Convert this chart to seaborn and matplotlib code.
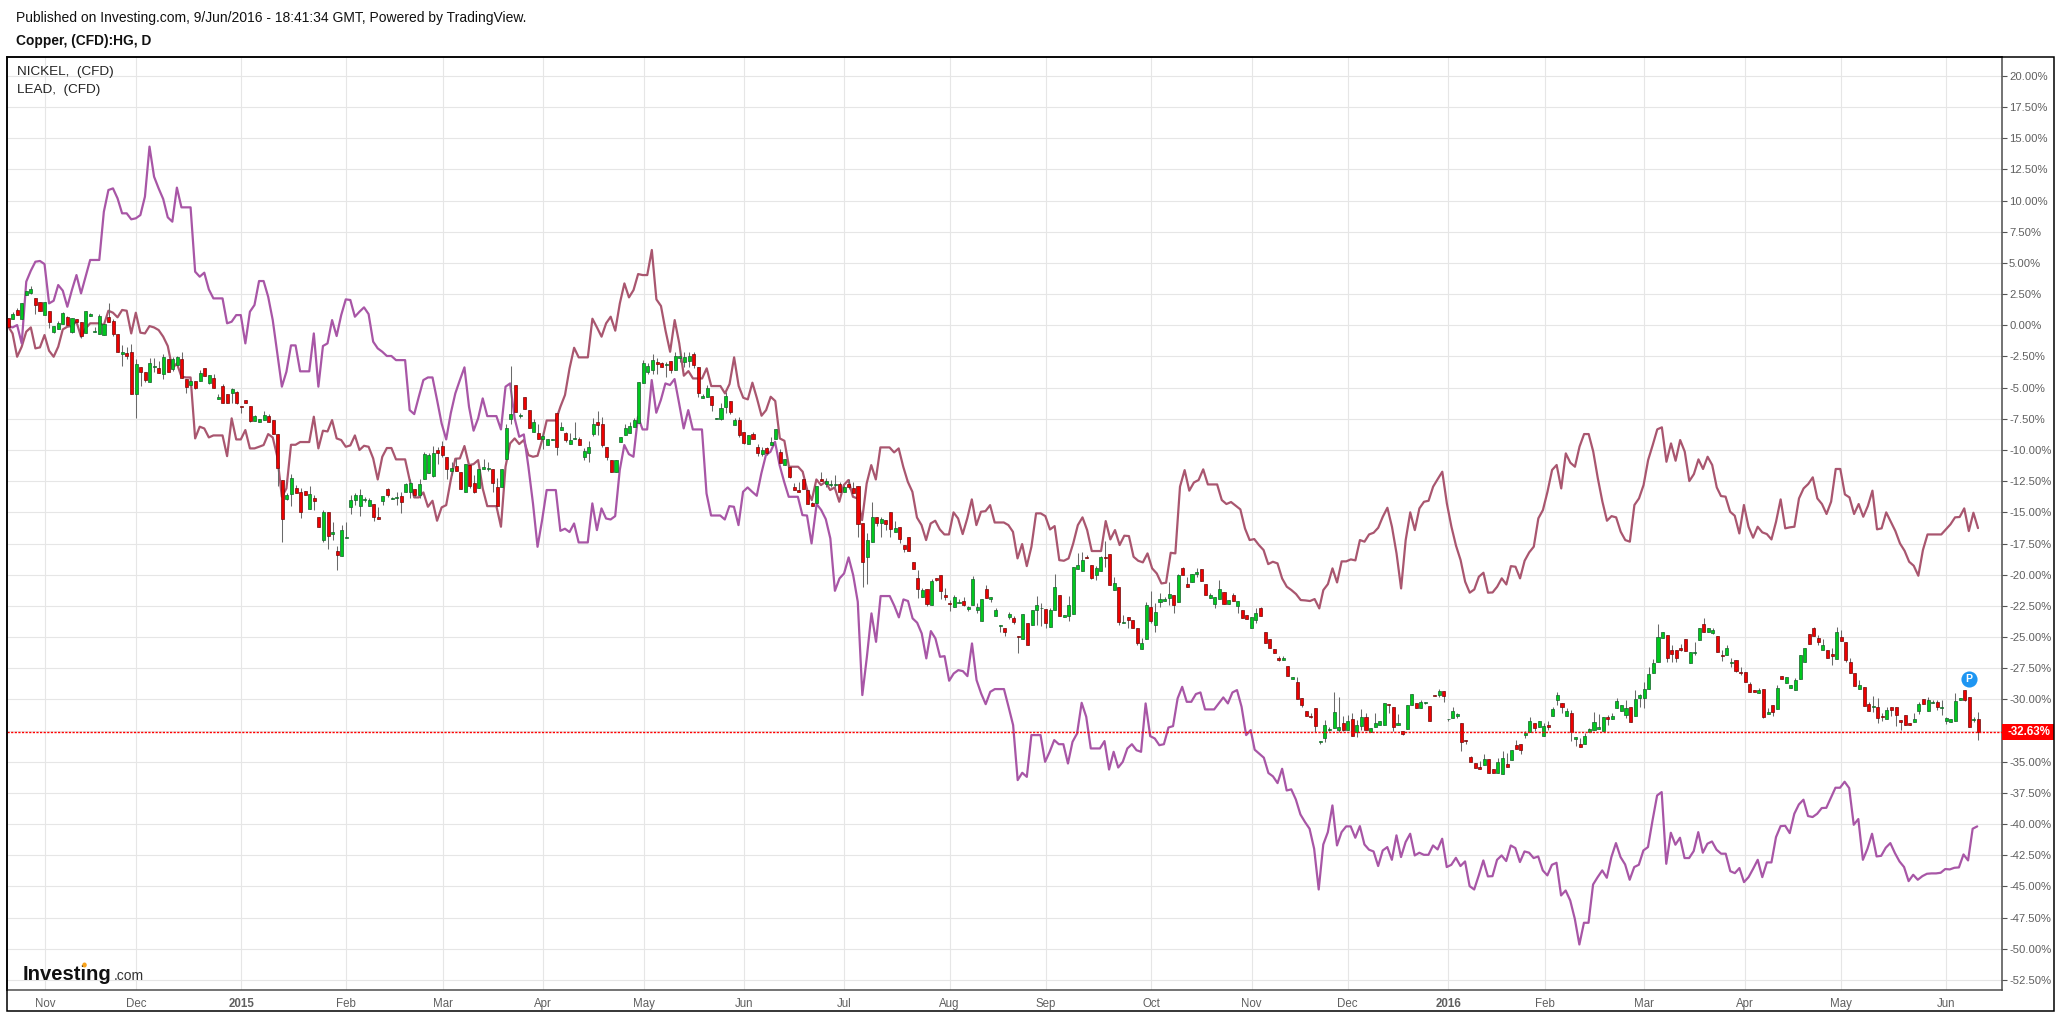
import numpy as np
import pandas as pd
import seaborn as sns
import matplotlib
matplotlib.use("Agg")
import matplotlib.pyplot as plt
from matplotlib.patches import Rectangle, Ellipse

# ---------- values (percent change) ----------
lead_a = [-0.06,-0.65,-2.52,-1.72,-0.51,-0.17,-1.85,-1.77,-0.78,-2.04,-2.52,-1.72,-0.33,-0.11,-0.06,0.29,-0.91,-0.25,0.16,0.16,0.16,0.02,1.17,1.01,0.64,1.23,1.17,-0.65,1.01,-0.59,-0.65,-0.06,-0.17,-0.38,-0.91,-1.66,-3.45,-3.05,-4.12,-4.18,-4.18,-9.07,-8.13,-8.27,-8.99,-8.83,-8.83,-8.83,-10.49,-7.46,-9.15,-9.15,-8.40,-9.87,-9.87,-9.74,-9.60,-8.72,-8.99,-10.54,-13.75,-13.08,-9.58,-9.58,-9.36,-9.36,-9.36,-7.33,-9.87,-8.45,-8.51,-7.60,-9.07,-9.20,-9.74,-9.63,-8.83,-10.0,-9.66,-9.74,-10.67,-12.36,-10.54,-9.84,-9.84,-10.75,-10.75,-10.75,-12.41,-13.80,-13.80,-13.40,-14.55,-14.07,-15.67,-14.60,-14.42,-12.41,-10.70,-10.67,-9.68,-11.21,-11.13,-10.81,-13.08,-14.50,-14.50,-14.50,-16.15,-11.34,-9.47,-9.07,-9.52]
lead_b = [-9.20,-10.41,-10.54,-10.46,-9.20,-7.63,-7.63,-7.63,-6.53,-5.59,-3.45,-1.80,-2.57,-2.57,-2.57,0.53,-0.17,-0.91,0.16,0.69,-0.43,1.76,3.36,2.24,2.83,4.11,4.03,4.03,6.04,2.08,1.55,-0.43,-2.12,0.42,-1.45,-4.04,-3.67,-4.26,-4.26,-4.26,-3.45,-4.87,-4.87,-4.87,-5.46,-4.71,-2.57,-4.87,-5.81,-5.94,-4.60,-5.86,-7.25,-6.80,-5.73,-6.07,-9.07,-9.26,-11.34,-11.34,-11.34,-11.74,-13.21,-14.02,-12.36,-12.81,-12.55,-13.21,-13.0,-14.15,-12.81,-12.41,-13.75,-13.88,-15.62,-12.68,-11.21,-12.36,-9.79,-9.79,-9.79,-10.19,-9.87,-11.34,-12.55,-13.35,-15.41,-16.02,-17.22,-15.89,-15.67,-16.37,-16.77,-16.77,-15.0,-15.49,-16.74,-15.49,-13.96,-16.02,-14.95,-14.9,-14.42,-15.81,-15.81,-15.81,-16.02,-16.56,-18.69]
lead_c = [-17.54,-19.31,-17.76,-15.08,-15.08,-15.30,-16.37,-16.10,-18.83,-18.88,-18.69,-17.49,-16.02,-15.40,-16.42,-18.10,-18.10,-18.10,-15.70,-17.17,-16.42,-17.62,-16.87,-16.90,-18.56,-18.88,-19.01,-18.29,-19.49,-19.90,-20.70,-20.64,-18.24,-18.29,-12.94,-11.61,-13.26,-12.60,-12.41,-11.55,-12.76,-12.76,-12.76,-14.01,-14.33,-14.17,-14.47,-14.76,-16.29,-17.22,-17.14,-17.62,-18.02,-19.15,-18.96,-19.09,-20.30,-20.96,-21.23,-21.55,-22.03,-22.06,-22.11,-21.95,-22.70]
lead_d = [-21.23,-20.75,-19.49,-20.62,-18.93,-18.93,-18.77,-18.85,-17.22,-17.35,-16.77,-16.63,-16.23,-15.35,-14.63,-16.15,-18.29,-21.10,-17.22,-15.0,-16.42,-14.68,-14.15,-14.07,-12.94,-12.33,-11.74,-14.28,-16.15,-17.67,-18.82,-20.56,-21.44,-21.18,-20.16,-19.84,-21.44,-21.42,-20.96,-20.29,-20.78,-19.31,-19.36,-20.29,-18.88,-18.21,-17.75,-15.48,-14.81,-13.34,-11.60,-11.20,-13.08,-10.27,-11.02,-11.34,-9.73,-8.72,-8.72,-10.13,-12.27,-14.14,-15.67,-15.30,-15.40,-16.55,-17.22,-17.35,-14.41,-13.88,-12.81,-10.80,-9.60,-8.34,-8.18,-10.94,-9.47,-10.86,-9.20,-10.13,-12.49,-11.93,-10.75,-11.52,-10.54,-11.20,-13.0]
lead_e = [-13.69,-13.74,-14.95,-15.27,-16.69,-14.41,-16.15,-17.03,-16.15,-16.60,-16.74,-17.17,-15.75,-13.96,-16.28,-16.20,-16.15,-13.88,-13.08,-12.73,-12.19,-13.88,-14.33,-15.13,-14.14,-11.52,-11.52,-13.56,-13.80,-15.13,-14.33,-15.35,-14.49,-13.26,-16.36,-16.28,-15.0,-15.75,-16.50,-17.49,-18.08,-18.96,-19.28,-20.08,-18.02,-16.77,-16.77,-16.77,-16.77,-16.36,-15.96,-15.40,-15.37,-14.68,-16.50,-15.03,-16.26]

nickel_a = [-0.06,-0.17,0.02,-1.45,3.50,4.38,5.10,5.16,4.91,1.76,1.97,3.23,2.78,1.49,2.83,4.03,2.56,3.90,5.24,5.24,5.24,9.11,10.85,10.98,10.18,8.98,8.98,8.50,8.58,8.84,10.32,14.33,11.92,10.98,10.13,8.66,8.31,11.04,9.46,9.46,9.46,4.30,3.90,4.22,2.88,2.16,2.16,2.16,0.16,0.29,0.82,0.82,-1.45,1.09,1.63,3.55,3.55,2.29,0.42,-2.25,-4.92,-3.72,-1.61,-1.61,-3.69,-3.69,-3.69,-0.65,-4.92,-1.66,-1.45,0.42,-0.86,0.82,2.08,2.03,0.69,1.09,1.44,0.90,-1.31,-1.85,-2.12,-2.46,-2.46,-2.79,-2.79,-2.79,-6.80,-7.12,-5.73,-4.39,-4.18,-4.18,-5.99,-7.87,-9.15,-7.06,-5.46,-4.39,-3.37,-6.53,-8.45,-7.46,-5.86,-7.28,-7.28,-7.28,-8.35,-4.92,-4.66,-7.46,-8.94]
nickel_b = [-8.75,-11.34,-14.28,-17.76,-15.62,-13.21,-13.21,-13.21,-16.48,-16.31,-16.58,-15.89,-17.41,-17.41,-17.41,-14.28,-16.42,-14.68,-15.49,-15.57,-15.30,-11.61,-9.60,-10.33,-10.54,-7.33,-8.35,-8.35,-4.39,-7.01,-5.99,-4.66,-4.79,-4.31,-6.26,-8.27,-6.80,-8.35,-8.35,-8.35,-13.48,-15.25,-15.25,-15.25,-15.57,-14.50,-14.55,-16.02,-13.35,-13.0,-13.35,-13.67,-11.88,-10.41,-10.14,-9.34,-11.21,-12.55,-13.75,-13.75,-13.75,-15.22,-15.25,-17.49]
nickel_c = [-14.33,-14.81,-15.54,-17.09,-21.29,-20.30,-19.90,-18.61,-20.03,-22.17,-29.65,-26.58,-23.10,-25.38,-21.71,-21.71,-21.71,-22.49,-23.42,-21.98,-22.11,-23.50,-23.85,-24.71,-26.71,-24.52,-25.11,-26.58,-26.53,-28.50,-27.92,-27.65,-27.73,-28.13,-25.51,-28.45,-29.52,-30.38,-29.39,-29.17,-29.17,-29.17,-30.59,-32.06,-36.47,-35.88,-36.21,-32.86,-32.86,-32.86,-35.0,-34.20,-33.26,-33.59,-33.59,-35.14,-33.40,-32.73,-30.27,-31.39,-33.93,-33.93,-33.93,-33.34,-35.62,-34.20,-35.46,-35.0,-33.93,-33.59,-34.07,-34.20,-30.32,-32.94,-33.13,-33.67,-33.59,-32.25,-32.14,-29.92,-28.99,-30.19,-30.19,-29.57,-29.44,-30.80,-30.80,-30.80,-30.32,-29.84,-30.32,-29.44,-29.25,-30.59,-32.86,-32.46]
nickel_d = [-34.03,-34.35,-34.67,-35.90,-36.17,-36.71,-35.56,-37.30,-37.21,-38.02,-39.22,-39.83,-40.37,-41.97,-45.24,-41.63,-40.64,-38.50,-41.71,-40.64,-40.18,-40.18,-41.09,-40.16,-41.63,-42.05,-42.19,-43.36,-42.11,-41.84,-42.86,-40.90,-42.64,-41.44,-40.77,-42.51,-42.29,-42.46,-42.46,-41.71,-42.03,-41.17,-43.44,-43.26,-42.70,-43.36,-42.99,-44.97,-45.24,-44.11,-42.91,-44.19,-44.17,-42.86,-42.51,-42.96,-41.71,-41.92,-43.04,-42.19,-42.29,-42.72,-42.59,-43.71,-44.11,-43.26,-43.10,-45.72,-45.32,-46.12,-47.59,-49.65,-47.91,-47.91,-44.84,-44.25,-43.71,-44.30,-42.64,-41.52,-42.64,-43.23,-44.46,-43.44,-43.26,-42.11,-41.84,-39.70,-37.70,-37.43,-43.18,-40.69,-41.65,-41.09,-42.72,-42.72,-42.16,-40.64,-42.29,-41.57,-41.39,-42.05,-42.37,-42.37,-43.77,-43.93,-43.52,-44.65,-44.25,-43.58,-42.86,-44.25,-43.07,-43.07,-41.04,-40.16,-40.13,-40.72,-39.17,-38.42,-38.04,-39.35,-39.43,-39.17,-38.71,-38.69,-37.88,-37.08,-37.08,-36.60,-37.11,-40.05,-39.59,-42.86,-41.97,-40.77,-42.59,-42.54,-41.89,-41.52,-42.32,-42.99,-43.44,-44.57,-44.06,-44.46,-44.17,-43.98,-43.95,-43.95,-43.90,-43.60,-43.63,-43.50,-43.47,-42.43,-42.91,-40.37,-40.18]

# copper candles: (open, high, low, close)
copper_a = [(.56,.56,-.11,-.11),(.53,1.09,.53,.90),(1.23,1.36,.85,.85),(.53,1.79,.53,1.79),(2.40,2.72,2.40,2.72),(2.62,3.15,2.51,2.88),(2.16,2.16,.90,1.60),(1.84,1.84,1.17,1.17),(.85,1.84,.85,1.84),(1.12,1.12,-.22,.29),(-.51,-.09,-.59,-.09),(-.27,.34,-.27,.16),(.13,1.09,.13,.96),(.66,.72,.02,.02),(-.51,.56,-.59,.56),(.48,.48,.29,.29),(.26,.26,-1.05,-.86),(-.65,1.12,-.65,1.12),(.77,.96,.77,.90),(-.57,-.17,-.57,-.46),(-.67,.90,-.67,.72),(-.75,.08,-.75,.08),(.64,1.81,.29,.29),(.34,.48,-.86,-.67),(-.73,-.73,-2.12,-2.12),(-2.28,-1.58,-3.27,-2.17),(-2.25,-1.77,-2.68,-2.44),(-2.17,-1.50,-5.49,-5.49),(-5.54,-2.73,-7.41,-3.13),(-3.38,-3.38,-4.84,-3.72),(-3.78,-3.78,-4.52,-4.39),(-4.52,-2.62,-4.52,-3.05),(-3.35,-2.62,-3.72,-3.29),(-3.45,-2.84,-3.83,-3.83),(-3.94,-2.33,-4.34,-2.57),(-2.73,-2.73,-3.72,-3.72),(-3.48,-2.52,-3.64,-2.73),(-3.19,-2.46,-3.19,-2.57),(-2.73,-2.17,-4.20,-4.20),(-4.34,-4.34,-5.41,-4.92),(-4.76,-4.49,-4.76,-4.49),(-4.49,-4.49,-5.11,-5.03),(-4.49,-3.59,-4.49,-3.86),(-3.45,-3.45,-4.04,-4.04),(-4.63,-4.01,-4.74,-4.01),(-4.26,-3.91,-5.01,-5.01),(-5.89,-5.51,-5.89,-5.78),(-4.90,-4.74,-6.26,-6.26),(-5.51,-5.51,-6.21,-6.21),(-5.41,-5.0,-6.26,-5.14),(-5.35,-5.27,-6.32,-6.21),(-6.48,-6.48,-7.01,-6.59),(-6.02,-6.02,-6.21,-6.21),(-6.50,-6.50,-7.73,-7.65),(-7.65,-7.20,-7.65,-7.31),(-7.73,-7.55,-7.73,-7.55),(-7.60,-6.88,-7.60,-7.22),(-7.31,-7.12,-7.73,-7.73),(-7.63,-7.63,-8.70,-8.70),(-8.75,-8.75,-12.89,-11.42),(-12.44,-12.44,-17.36,-15.57),(-13.94,-13.48,-14.0,-13.64),(-13.51,-11.93,-14.47,-12.28),(-13.08,-12.81,-13.43,-13.43),(-13.40,-13.08,-15.44,-14.95),(-13.32,-13.32,-13.62,-13.62),(-14.71,-12.89,-14.71,-13.56),(-13.88,-13.62,-14.77,-14.07),(-15.41,-15.41,-16.16,-16.16),(-17.25,-14.77,-17.36,-14.93),(-15.0,-15.0,-17.92,-16.88),(-16.72,-15.78,-17.22,-16.61),(-18.08,-17.68,-19.63,-18.40),(-18.53,-16.02,-18.53,-16.45),(-17.04,-15.78,-17.04,-16.98),(-14.55,-13.62,-15.14,-14.04),(-13.99,-13.48,-14.42,-13.64),(-14.47,-13.13,-15.27,-13.64),(-13.99,-13.80,-14.15,-13.94),(-14.47,-13.88,-14.47,-14.04),(-14.36,-14.36,-15.67,-15.35),(-15.41,-14.60,-15.57,-15.57),(-14.07,-13.72,-14.42,-13.72),(-13.16,-13.08,-13.75,-13.59),(-13.91,-13.80,-13.91,-13.86),(-13.83,-13.35,-14.42,-13.78),(-13.72,-13.35,-15.03,-14.20),(-13.35,-12.63,-13.35,-12.76),(-13.40,-12.36,-13.88,-12.68),(-13.16,-13.16,-13.80,-13.64),(-13.64,-12.36,-13.88,-12.76),(-12.36,-10.19,-12.36,-10.35),(-11.88,-10.27,-11.88,-10.43),(-12.07,-9.68,-12.15,-10.27),(-10.03,-9.74,-11.13,-10.22),(-9.69,-9.31,-10.54,-10.38),(-10.59,-10.59,-12.31,-11.56),(-11.67,-10.94,-12.01,-11.48),(-11.32,-10.67,-11.67,-11.67),(-11.80,-11.80,-13.11,-13.11),(-13.40,-11.16,-13.40,-11.16),(-11.24,-11.24,-13.08,-12.92),(-12.68,-12.01,-13.48,-13.35),(-13.08,-11.56,-13.08,-11.56),(-11.56,-10.75,-11.56,-11.40),(-11.53,-10.94,-11.72,-11.48),(-11.56,-11.56,-13.35,-12.68),(-13.0,-12.28,-14.50,-14.50),(-13.0,-11.56,-13.0,-11.56),(-10.75,-7.95,-10.75,-8.27),(-7.49,-3.27,-7.92,-7.14),(-4.82,-4.82,-6.93,-6.93)]
copper_b = [(-7.25,-7.01,-7.40,-7.20),(-5.78,-5.78,-6.74,-6.74),(-6.82,-6.82,-8.27,-8.27),(-8.59,-7.52,-8.59,-7.79),(-8.67,-7.95,-9.15,-9.15),(-9.15,-8.53,-9.95,-8.91),(-9.63,-9.15,-9.63,-9.15),(-9.18,-9.13,-9.18,-9.13),(-7.06,-7.06,-10.41,-9.74),(-8.43,-7.79,-8.43,-8.19),(-8.67,-8.53,-9.34,-9.18),(-9.55,-8.67,-9.55,-9.23),(-9.12,-7.79,-9.12,-9.07),(-9.15,-8.94,-9.58,-9.58),(-10.59,-9.87,-10.81,-10.11),(-10.27,-9.29,-10.94,-9.79),(-8.70,-7.47,-8.86,-7.92),(-7.79,-6.88,-8.80,-7.97),(-7.95,-7.38,-9.79,-9.58),(-9.76,-9.76,-10.81,-10.59),(-10.81,-10.81,-11.74,-11.74),(-11.80,-10.81,-11.80,-10.81),(-9.39,-8.99,-9.39,-8.99),(-8.78,-7.92,-8.78,-8.27),(-8.62,-7.73,-8.62,-8.08),(-8.13,-7.47,-8.13,-7.63),(-7.82,-4.58,-7.82,-4.58),(-4.60,-2.79,-4.60,-3.05),(-3.72,-3.05,-3.91,-3.29),(-3.59,-2.30,-3.91,-2.81),(-2.95,-2.63,-3.91,-3.08),(-3.05,-2.92,-3.32,-3.32),(-3.21,-2.92,-4.18,-3.13),(-2.89,-2.89,-3.80,-3.59),(-3.59,-2.17,-3.59,-2.49),(-2.60,-1.98,-2.92,-2.49),(-2.97,-2.12,-3.32,-2.57),(-2.84,-2.17,-3.32,-2.46),(-2.33,-2.17,-3.45,-3.16),(-3.37,-3.37,-5.73,-5.41),(-5.81,-5.51,-5.86,-5.70),(-5.73,-4.82,-5.73,-5.06),(-5.70,-5.70,-6.88,-6.37),(-7.54,-7.47,-7.54,-7.47),(-7.49,-6.26,-7.60,-6.66),(-6.53,-5.35,-7.01,-5.70),(-6.10,-6.10,-7.14,-6.93),(-8.03,-7.47,-8.03,-7.63),(-7.63,-7.33,-8.94,-8.78),(-8.59,-8.59,-9.55,-9.42),(-9.55,-8.83,-9.55,-8.83),(-8.72,-8.59,-9.10,-9.10),(-9.79,-9.55,-10.46,-10.22),(-10.35,-9.79,-10.46,-10.0),(-9.87,-9.74,-10.41,-10.22),(-9.58,-8.94,-9.58,-9.39),(-9.15,-8.35,-9.15,-8.35),(-10.19,-9.92,-11.02,-11.02),(-11.23,-10.75,-11.23,-10.75),(-11.40,-11.40,-12.22,-12.14),(-13.0,-12.68,-13.19,-13.19),(-13.24,-12.60,-13.35,-13.35),(-12.36,-12.36,-13.11,-13.11),(-13.21,-13.21,-14.31,-14.31),(-14.28,-14.20,-14.47,-14.47),(-14.28,-12.92,-14.28,-12.92),(-12.36,-11.80,-12.52,-12.52),(-12.71,-12.28,-12.95,-12.52),(-12.81,-12.41,-12.95,-12.76),(-12.81,-12.01,-12.95,-12.76),(-12.76,-12.55,-13.35,-13.35),(-13.35,-12.81,-13.35,-12.95),(-12.76,-12.36,-13.14,-12.95),(-13.08,-12.55,-13.48,-13.48),(-12.87,-12.87,-16.96,-15.97),(-15.88,-15.88,-20.96,-18.96),(-18.61,-16.69,-20.75,-17.22)]
copper_c = [(-17.35,-14.17,-17.35,-15.40),(-15.40,-15.40,-16.10,-15.83),(-15.83,-15.40,-17.01,-15.56),(-15.64,-15.64,-16.42,-15.91),(-15.0,-15.0,-16.95,-16.37),(-16.61,-15.70,-16.61,-16.29),(-16.18,-16.18,-17.49,-17.17),(-17.62,-17.62,-18.16,-17.92),(-17.0,-17.0,-18.08,-18.08),(-19.01,-19.01,-19.57,-19.57),(-20.30,-19.63,-21.85,-21.18),(-21.77,-21.10,-21.77,-21.26),(-21.18,-21.18,-22.49,-22.36),(-22.41,-20.38,-22.41,-20.54),(-20.30,-20.24,-20.50,-20.40),(-20.06,-20.06,-21.95,-21.29),(-21.63,-21.10,-22.03,-21.77),(-22.30,-22.03,-22.89,-22.38),(-22.62,-21.63,-22.62,-21.80),(-22.28,-21.95,-22.28,-22.22),(-22.14,-21.82,-22.49,-22.41),(-22.76,-22.49,-22.89,-22.62),(-22.44,-20.11,-22.44,-20.38),(-22.84,-22.30,-23.10,-22.62),(-23.69,-21.98,-23.69,-21.98),(-21.18,-20.83,-21.85,-21.85),(-21.93,-21.82,-22.17,-21.82),(-23.29,-22.65,-23.29,-22.86),(-24.15,-24.07,-24.57,-24.07),(-24.31,-24.31,-24.90,-24.57),(-23.40,-22.97,-23.56,-23.16),(-23.48,-23.29,-23.96,-23.77),(-24.92,-24.92,-26.26,-25.0),(-25.14,-23.18,-25.14,-23.18),(-23.91,-23.91,-25.62,-25.62),(-24.01,-22.86,-24.01,-22.86),(-22.81,-21.71,-24.04,-22.46),(-22.70,-22.30,-24.09,-22.65),(-22.78,-22.78,-24.25,-23.85),(-24.17,-22.65,-24.17,-22.86),(-22.81,-19.95,-22.81,-21.02),(-21.66,-21.66,-23.29,-23.29),(-23.37,-23.26,-23.37,-23.26),(-23.29,-21.71,-23.69,-22.46),(-23.13,-19.39,-23.13,-19.39),(-19.55,-18.29,-19.55,-19.25),(-19.68,-18.16,-19.68,-18.85),(-18.58,-18.42,-18.64,-18.64),(-19.25,-19.25,-20.35,-20.27),(-20.0,-19.31,-20.43,-19.47),(-19.68,-18.48,-19.68,-18.61),(-18.58,-17.30,-19.36,-18.64),(-18.37,-18.37,-20.80,-20.80),(-21.20,-20.16,-21.20,-20.70),(-21.02,-21.02,-24.0,-23.80),(-23.88,-23.24,-23.88,-23.83),(-23.42,-23.42,-24.30,-23.64),(-23.66,-23.66,-24.31,-24.31),(-24.31,-24.31,-25.64,-25.46),(-25.94,-25.06,-25.94,-25.51),(-25.19,-22.22,-25.19,-22.46),(-22.62,-21.31,-23.91,-23.72),(-24.01,-22.30,-24.57,-23.02),(-22.17,-21.50,-22.57,-21.98),(-22.09,-21.82,-22.09,-21.95),(-21.85,-20.62,-22.44,-21.58),(-21.66,-21.66,-23.05,-22.41),(-22.22,-19.95,-22.22,-20.03),(-19.49,-19.36,-20.0,-20.0),(-20.78,-20.16,-21.0,-21.0),(-20.56,-19.97,-20.56,-19.97),(-19.95,-19.49,-20.15,-19.79),(-19.57,-19.57,-20.48,-20.48),(-20.78,-20.78,-21.63,-21.63),(-21.85,-21.45,-21.85,-21.66),(-22.33,-21.82,-22.70,-21.82),(-21.93,-20.43,-21.93,-21.18),(-21.42,-21.42,-22.33,-22.33),(-22.33,-22.06,-22.33,-22.06),(-21.66,-21.45,-22.11,-22.11),(-22.49,-22.14,-23.05,-22.14),(-22.84,-22.84,-23.45,-23.45),(-23.26,-23.26,-23.56,-23.56),(-24.25,-23.42,-24.25,-23.42),(-23.66,-22.70,-23.91,-23.10),(-22.70,-22.57,-23.29,-23.29),(-24.63,-24.63,-25.51,-25.51),(-25.19,-25.19,-25.91,-25.91),(-25.99,-25.99,-26.31,-26.31),(-26.71,-26.55,-26.95,-26.80),(-26.87,-26.53,-26.87,-26.66),(-27.30,-27.30,-28.13,-28.13),(-28.40,-28.24,-28.40,-28.24),(-28.59,-28.24,-30.0,-30.0),(-29.92,-29.92,-30.59,-30.46),(-30.96,-30.96,-31.31,-31.31),(-31.29,-31.12,-31.45,-31.39),(-30.72,-30.72,-32.60,-32.12)]
copper_d = [(-33.45,-33.30,-33.60,-33.30),(-33.13,-31.66,-33.45,-32.06),(-32.45,-32.2,-32.5,-32.38),(-32.27,-29.44,-32.27,-31.04),(-32.46,-29.79,-32.62,-32.25),(-31.85,-31.34,-32.54,-32.43),(-32.46,-31.26,-32.46,-31.69),(-31.53,-31.07,-32.91,-32.91),(-32.65,-31.66,-33.0,-32.01),(-32.14,-30.78,-32.46,-31.44),(-31.44,-31.12,-32.43,-32.43),(-32.62,-32.30,-32.62,-32.30),(-32.19,-31.07,-32.19,-31.90),(-32.06,-31.74,-32.06,-31.74),(-32.03,-30.32,-32.03,-30.32),(-30.37,-30.37,-31.07,-30.48),(-30.61,-30.61,-32.51,-32.19),(-32.03,-31.18,-32.03,-31.85),(-32.57,-32.57,-32.84,-32.76),(-32.35,-30.48,-32.35,-30.48),(-30.48,-29.60,-30.48,-29.60),(-30.29,-30.29,-30.67,-30.67),(-30.67,-30.05,-30.67,-30.21),(-30.27,-30.21,-30.37,-30.21),(-30.53,-30.53,-31.71,-31.71),(-29.65,-29.65,-29.76,-29.76),(-29.63,-29.20,-29.84,-29.36),(-29.36,-29.36,-30.19,-29.71),(-31.58,-31.53,-31.71,-31.53),(-31.47,-30.64,-31.47,-30.96),(-31.31,-31.07,-31.45,-31.20)]
copper_e = [(-31.92,-31.92,-34.12,-33.39),(-33.29,-33.29,-33.58,-33.34),(-34.65,-34.52,-35.0,-35.0),(-35.13,-35.13,-35.48,-35.48),(-35.45,-34.92,-35.56,-35.56),(-35.24,-34.38,-35.24,-34.81),(-34.81,-34.81,-35.88,-35.88),(-35.61,-35.61,-35.88,-35.88),(-35.88,-34.73,-35.88,-35.05),(-35.96,-34.14,-35.96,-34.73),(-35.21,-34.33,-35.40,-35.40),(-34.84,-34.09,-34.84,-34.09),(-33.69,-33.26,-33.96,-33.96),(-33.61,-33.61,-34.38,-34.04),(-32.83,-32.54,-33.07,-32.70),(-32.59,-31.44,-32.59,-31.76),(-31.92,-31.92,-32.54,-32.27),(-32.19,-31.76,-32.19,-31.76),(-32.91,-31.92,-32.91,-32.14),(-32.06,-31.76,-32.46,-32.19),(-31.31,-30.59,-31.31,-30.80),(-30.05,-29.38,-30.45,-29.65),(-30.32,-30.32,-31.07,-30.59),(-31.31,-30.72,-31.31,-30.96),(-31.12,-30.85,-33.31,-32.65),(-33.15,-33.05,-33.74,-33.05),(-33.61,-33.13,-33.80,-33.80),(-33.55,-32.67,-33.55,-32.97),(-32.59,-32.30,-32.59,-32.40),(-32.43,-31.02,-32.43,-31.84),(-32.35,-31.18,-32.35,-32.22),(-32.51,-31.44,-32.51,-31.44),(-31.42,-31.26,-32.06,-31.55),(-31.55,-31.12,-31.55,-31.36),(-30.67,-29.89,-30.67,-30.16),(-30.91,-30.48,-30.91,-30.48),(-31.26,-30.05,-31.48,-30.72),(-30.64,-30.64,-31.79,-31.79),(-31.31,-29.25,-31.31,-30.0),(-29.86,-29.60,-30.64,-29.68),(-29.87,-28.60,-30.70,-29.20),(-29.2,-27.43,-29.2,-28.0),(-27.92,-26.79,-27.92,-27.11),(-27.03,-23.96,-27.03,-24.97),(-25.05,-24.63,-25.05,-24.63),(-24.87,-24.87,-27.03,-26.66),(-26.07,-25.64,-26.98,-26.34),(-26.07,-26.07,-26.98,-26.71),(-25.88,-25.59,-26.08,-26.02),(-25.19,-25.19,-26.10,-26.10),(-27.11,-26.20,-27.11,-26.20),(-26.28,-25.37,-26.45,-26.23),(-25.22,-24.30,-25.22,-24.30),(-23.98,-23.50,-24.63,-24.63),(-24.63,-24.30,-24.63,-24.30),(-24.65,-24.30,-24.78,-24.47),(-24.92,-24.92,-26.23,-26.23)]
copper_f = [(-26.44,-26.04,-26.92,-26.50),(-26.42,-25.64,-26.42,-25.91),(-27.09,-26.71,-27.38,-27.03),(-26.87,-26.87,-27.81,-27.70),(-27.76,-27.43,-28.05,-27.89),(-27.84,-27.84,-28.58,-28.58),(-28.77,-28.58,-29.39,-29.39),(-29.23,-29.23,-29.44,-29.44),(-29.52,-29.12,-29.52,-29.28),(-29.20,-29.20,-31.47,-31.39),(-31.15,-30.72,-31.15,-31.04),(-30.48,-30.48,-31.34,-30.99),(-30.80,-28.85,-30.80,-29.12),(-28.16,-28.16,-28.40,-28.40),(-28.66,-28.24,-28.66,-28.24),(-29.12,-28.85,-29.12,-28.85),(-29.23,-28.26,-29.23,-28.48),(-28.40,-26.47,-28.40,-26.47),(-26.98,-25.91,-26.98,-25.91),(-24.79,-24.79,-25.59,-25.59),(-24.30,-24.17,-24.95,-24.95),(-25.11,-24.84,-25.64,-25.38),(-26.07,-25.19,-26.07,-25.67),(-26.07,-26.07,-26.66,-26.66),(-26.37,-25.91,-27.25,-26.50),(-26.74,-24.17,-26.74,-24.63),(-25.03,-24.44,-25.32,-25.32),(-25.43,-25.43,-26.98,-26.82),(-27.03,-26.71,-27.92,-27.92),(-27.92,-27.92,-28.93,-28.90),(-29.17,-28.45,-29.17,-28.88),(-29.04,-29.04,-30.51,-30.51),(-30.37,-30.19,-30.91,-30.91),(-30.59,-29.73,-30.99,-30.53),(-30.64,-29.87,-31.87,-31.47),(-31.34,-31.07,-31.71,-31.39),(-31.55,-30.64,-31.55,-30.88),(-30.64,-30.64,-31.34,-30.85),(-30.64,-30.64,-32.14,-31.26),(-31.66,-31.66,-32.46,-31.77),(-31.26,-31.26,-32.06,-32.06),(-31.85,-31.85,-32.06,-32.06),(-31.79,-31.07,-31.79,-31.60),(-30.91,-30.19,-31.13,-30.37),(-30.0,-30.0,-30.35,-30.35),(-30.91,-29.79,-30.91,-30.05),(-30.27,-30.05,-30.27,-30.21),(-30.21,-30.05,-30.86,-30.59),(-30.67,-30.05,-31.26,-30.62),(-31.71,-31.39,-31.98,-31.50),(-31.79,-31.58,-31.79,-31.58),(-31.71,-29.52,-31.71,-30.13),(-30.03,-29.92,-30.03,-29.92),(-29.28,-29.25,-30.09,-30.05),(-29.84,-29.84,-32.20,-32.20),(-31.66,-31.39,-31.79,-31.53),(-31.53,-31.04,-33.26,-32.63)]

month_ticks = [8.08,27.81,50.56,73.32,94.21,116.02,137.78,159.58,181.25,204.09,224.9,247.79,269.55,290.35,312.16,333.05,354.63,376.53,397.33,420.09]
month_labels = ["Nov","Dec","2015","Feb","Mar","Apr","May","Jun","Jul","Aug","Sep","Oct","Nov","Dec","2016","Feb","Mar","Apr","May","Jun"]
pct_ticks = [20-2.5*i for i in range(30)]
last_close = -32.63
flag_bar, flag_pct = 425.0, -28.4

# bar spans that anchor each run of readings to the time axis
lead_runs = [(lead_a,0,110.8),(lead_b,111.8,218.8),(lead_c,219.8,284.2),(lead_d,285.08,370.35),(lead_e,371.26,426.97)]
nickel_runs = [(nickel_a,0,110.8),(nickel_b,111.8,174.16),(nickel_c,175.26,269.34),(nickel_d,270.2,426.8)]
copper_runs = [(copper_a,0,110.0),(copper_b,111.0,186.2),(copper_c,187.3,283.35),(copper_d,284.43,314.13),(copper_e,315.0,370.5),(copper_f,371.55,427.04)]

# ---------- figure ----------
W, H = 2061, 1014
sns.set_theme(style="white")
plt.rcParams['font.family'] = ['Liberation Sans', 'DejaVu Sans']
fig = plt.figure(figsize=(W/100, H/100), dpi=100, facecolor="white")
L, T, R, B = 6.5, 56.5, 2002.0, 990.0
ax = fig.add_axes([L/W, 1-B/H, (R-L)/W, (B-T)/H])
ax.set_xlim(-0.325, 432.17)
ax.set_ylim(-53.30, 21.556)

def line_frame(runs, name):
    xs = np.concatenate([np.linspace(a, b, len(v)) for v, a, b in runs])
    ys = np.concatenate([np.asarray(v, float) for v, a, b in runs])
    return pd.DataFrame({"bar": xs, "pct": ys, "series": name})

sns.lineplot(data=line_frame(lead_runs, "LEAD"), x="bar", y="pct", color="#a9566f", lw=1.6,
             estimator=None, sort=False, ax=ax, zorder=3, legend=False)
sns.lineplot(data=line_frame(nickel_runs, "NICKEL"), x="bar", y="pct", color="#a856a6", lw=1.6,
             estimator=None, sort=False, ax=ax, zorder=3, legend=False)

bx = np.concatenate([np.linspace(a, b, len(v)) for v, a, b in copper_runs])
ohlc = np.array([row for v, a, b in copper_runs for row in v], float)
o, h, l, c = ohlc.T
up = c >= o
ax.vlines(bx, l, h, color="#6a6a6a", lw=0.75, zorder=4)
ax.bar(bx[up], (c-o)[up], bottom=o[up], width=0.66, color="#00c81e", edgecolor="#14602a", lw=0.5, zorder=5)
ax.bar(bx[~up], (o-c)[~up], bottom=c[~up], width=0.66, color="#ee0000", edgecolor="#6e0a0a", lw=0.5, zorder=5)

# grid and axes
ax.set_xticks(month_ticks)
ax.set_xticklabels(month_labels, fontsize=8.3, color="#5f5f5f")
for lab, txt in zip(ax.get_xticklabels(), month_labels):
    if txt.isdigit():
        lab.set_fontweight("bold")
ax.set_yticks(pct_ticks)
ax.set_yticklabels(["" if p == -32.5 else f"{p:.2f}%" for p in pct_ticks], fontsize=8.1, color="#5f5f5f")
ax.yaxis.tick_right()
ax.grid(True, color="#e6e6e6", lw=0.8, zorder=0)
ax.set_axisbelow(True)
ax.tick_params(axis="x", length=3, width=0.8, color="#555555", pad=2.5)
ax.tick_params(axis="y", length=3.6, width=0.8, color="#555555", pad=1.5)
ax.set_xlabel(""); ax.set_ylabel("")
for s in ("left", "top"):
    ax.spines[s].set_color("black"); ax.spines[s].set_linewidth(1.1)
for s in ("right", "bottom"):
    ax.spines[s].set_color("#4d4d4d"); ax.spines[s].set_linewidth(1.1)

# last price line and tag
ax.axhline(last_close, color="#ff0000", lw=1.0, ls=(0, (1.6, 1.0)), zorder=6)
yy = 325.3 - 12.47*last_close
fig.add_artist(Rectangle((R/W, 1-(yy+8.3)/H), 52/W, 16.2/H, transform=fig.transFigure, facecolor="#ff0000", edgecolor="none", zorder=8))
fig.text(2029/W, 1-(yy+0.3)/H, f"{last_close:.2f}%", color="white", fontsize=8.3, fontweight="bold", ha="center", va="center", zorder=9)

# marker
ax.scatter([flag_bar], [flag_pct], s=135, color="#1e96f2", zorder=7, linewidths=0, clip_on=False)
ax.text(flag_bar, flag_pct, "P", color="white", fontsize=7.6, fontweight="bold", ha="center", va="center", zorder=8)

# outer frame
fig.add_artist(Rectangle((L/W, 1-1010.5/H), (2054-L)/W, (1010.5-T)/H, transform=fig.transFigure, fill=False, edgecolor="black", lw=1.1, zorder=10))

# texts
fig.text(16/W, 1-18/H, "Published on Investing.com, 9/Jun/2016 - 18:41:34 GMT, Powered by TradingView.", fontsize=10.0, color="#111111", va="center")
fig.text(16/W, 1-41/H, "Copper, (CFD):HG, D", fontsize=9.9, fontweight="bold", color="#111111", va="center")
fig.text(17/W, 1-72.5/H, "NICKEL,  (CFD)", fontsize=9.7, color="#222222", va="center")
fig.text(17/W, 1-89.5/H, "LEAD,  (CFD)", fontsize=9.7, color="#222222", va="center")
fig.text(23/W, 1-980/H, "Investing", fontsize=14.6, fontweight="bold", color="#111111", va="baseline", zorder=9)
fig.text(114/W, 1-980/H, ".com", fontsize=10.0, color="#333333", va="baseline", zorder=9)
fig.add_artist(Ellipse((84.5/W, 1-965/H), 4.5/W, 5/H, transform=fig.transFigure, facecolor="#f7a21b", edgecolor="none", zorder=11))

fig.savefig("out.png", dpi=100, facecolor="white")
